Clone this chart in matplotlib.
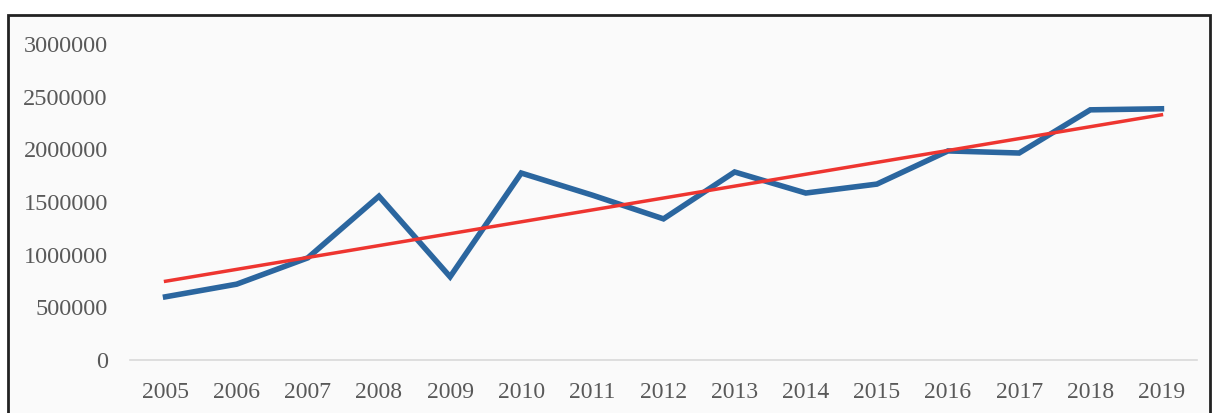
import numpy as np
import matplotlib.pyplot as plt
from matplotlib.patches import Rectangle

years = [2005, 2006, 2007, 2008, 2009, 2010, 2011, 2012, 2013, 2014, 2015, 2016, 2017, 2018, 2019]
values = [600000, 720000, 970000, 1555000, 790000, 1775000, 1565000, 1340000, 1785000,
          1585000, 1670000, 1985000, 1965000, 2375000, 2385000]
yticks = [0, 500000, 1000000, 1500000, 2000000, 2500000, 3000000]

plt.rcParams['font.family'] = ['Liberation Serif', 'DejaVu Serif']

fig = plt.figure(figsize=(12.13, 4.13), dpi=100)
fig.patch.set_facecolor('white')
# framed panel behind the axes
fig.patches.append(Rectangle((8 / 1213, -0.05), 1202 / 1213, 0.05 + 398 / 413,
                             transform=fig.transFigure, facecolor='#fafafa',
                             edgecolor='#222222', linewidth=2, zorder=-1))

ax = fig.add_axes([130 / 1213, 53 / 413, 1067 / 1213, 316 / 413])
ax.set_facecolor('none')

x = np.arange(len(years))
ax.plot(x, values, color='#2b669f', linewidth=4, solid_joinstyle='miter', zorder=3)

# linear trend line
coef = np.polyfit(x, values, 1)
ax.plot(x, np.polyval(coef, x), color='#ee3530', linewidth=2.5, zorder=4)

ax.set_xlim(-0.5, len(years) - 0.5)
ax.set_ylim(0, 3000000)
ax.set_xticks(x)
ax.set_xticklabels([str(y) for y in years])
ax.set_yticks(yticks)
ax.set_yticklabels([str(v) for v in yticks])
ax.tick_params(length=0, labelsize=17, colors='#595959')
ax.tick_params(axis='y', labelsize=17.5, pad=16)
ax.tick_params(axis='x', pad=16)

for s in ['top', 'right', 'left']:
    ax.spines[s].set_visible(False)
ax.spines['bottom'].set_color('#d9d9d9')
ax.spines['bottom'].set_linewidth(1.2)

fig.savefig('out.png', dpi=100)
